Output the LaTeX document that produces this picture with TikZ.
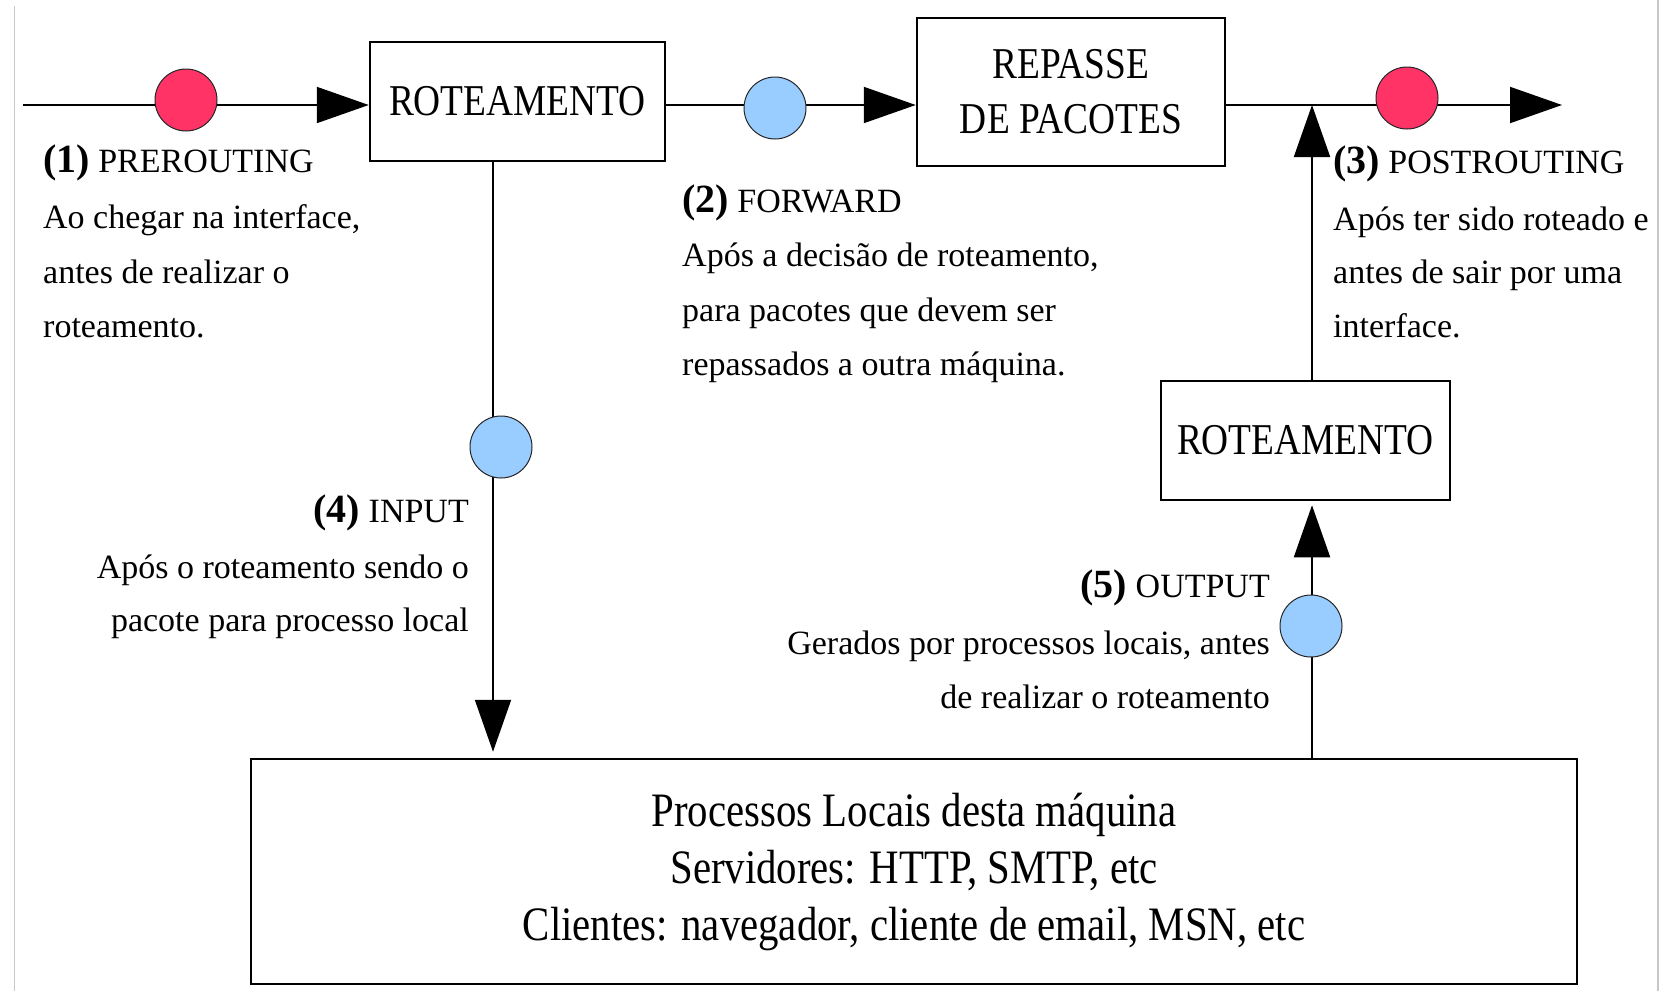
\documentclass[tikz,border=0pt]{standalone}
\usepackage{fontspec}
\setmainfont{Liberation Serif}
\newfontfamily\narrowserif{Liberation Serif}[FakeStretch=0.85]
\usetikzlibrary{arrows.meta}

\definecolor{hookred}{HTML}{FF3366}
\definecolor{hookblue}{HTML}{99CCFF}
\definecolor{edgegray}{HTML}{C8C8C8}

% bold chain number, e.g. (1)
\newcommand\hooknum[1]{{\bfseries\fontsize{40}{40}\selectfont(#1)}}

\begin{document}
\begin{tikzpicture}[x=1pt,y=-1pt,
  box/.style={draw, line width=2.5pt, inner sep=0pt, align=center,
    font=\narrowserif\fontsize{44}{55}\selectfont},
  hookA/.style={circle, draw=black!85, line width=1pt, minimum size=62pt,
    inner sep=0pt, fill=hookred},
  hookB/.style={hookA, fill=hookblue},
  flow/.style={line width=2pt},
  tip/.style={-{Triangle[length=52pt,width=36pt]}},
  lbl/.style={inner sep=0pt, font=\fontsize{34}{40}\selectfont}]

\useasboundingbox (0,0) rectangle (1660,991);
\fill[white] (0,0) rectangle (1660,991);

% page edges
\draw[edgegray, line width=1.8pt] (14.5,6) -- (14.5,991);
\draw[edgegray, line width=1.8pt] (1658,0) -- (1658,991);

% boxes
\node[box, minimum width=295pt, minimum height=119pt] (rot1) at (517.5,101.5) {ROTEAMENTO};
\node[box, minimum width=308pt, minimum height=148pt] (rep) at (1071,92) {REPASSE\\DE PACOTES};
\node[box, minimum width=289pt, minimum height=119pt] (rot2) at (1305.5,440.5) {ROTEAMENTO};
\node[box, minimum width=1326pt, minimum height=225pt,
  font=\narrowserif\fontsize{48}{57}\selectfont] (proc) at (914,871.5)
  {Processos Locais desta máquina\\Servidores: HTTP, SMTP, etc\\Clientes: navegador, cliente de email, MSN, etc};

% reference points of the packet path
\coordinate (inEnd) at (23,105);
\coordinate (outEnd) at (1562,105);
\coordinate (join) at (1312,105);
\coordinate (inX) at (493,0);

% connectors
\draw[flow, tip] (inEnd) -- (rot1.west |- inEnd);
\draw[flow, tip] (rot1.east |- inEnd) -- (rep.west |- inEnd);
\draw[flow, tip] (rep.east |- inEnd) -- (outEnd);
\draw[flow, tip] (rot2.north -| join) -- (join);
\draw[flow, tip, shorten >=4pt] (proc.north -| join) -- (rot2.south -| join);
\draw[flow, tip, shorten >=6pt] (rot1.south -| inX) -- (proc.north -| inX);

% hook points
\node[hookA] (pre) at (186,100) {};
\node[hookB] (fwd) at (775,108) {};
\node[hookA] (post) at (1407,98) {};
\node[hookB] (inp) at (501,447) {};
\node[hookB] (outp) at (1311,626) {};

% (1) PREROUTING
\node[lbl, anchor=base west] (preT) at (43,172) {\hooknum{1} PREROUTING};
\node[lbl, anchor=base west] (preA) at (43,228) {Ao chegar na interface,};
\node[lbl, anchor=base west] (preB) at (43,283) {antes de realizar o};
\node[lbl, anchor=base west] (preC) at (43,337) {roteamento.};

% (2) FORWARD
\node[lbl, anchor=base west] (fwdT) at (682,212) {\hooknum{2} FORWARD};
\node[lbl, anchor=base west] (fwdA) at (682,266) {Após a decisão de roteamento,};
\node[lbl, anchor=base west] (fwdB) at (682,321) {para pacotes que devem ser};
\node[lbl, anchor=base west] (fwdC) at (682,375) {repassados a outra máquina.};

% (3) POSTROUTING
\node[lbl, anchor=base west] (postT) at (1333,173) {\hooknum{3} POSTROUTING};
\node[lbl, anchor=base west] (postA) at (1333,230) {Após ter sido roteado e};
\node[lbl, anchor=base west] (postB) at (1333,283) {antes de sair por uma};
\node[lbl, anchor=base west] (postC) at (1333,337) {interface.};

% (4) INPUT
\node[lbl, anchor=base east] (inpT) at (469,522) {\hooknum{4} INPUT};
\node[lbl, anchor=base east] (inpA) at (469,578) {Após o roteamento sendo o};
\node[lbl, anchor=base east] (inpB) at (469,631) {pacote para processo local};

% (5) OUTPUT
\node[lbl, anchor=base east] (outpT) at (1270,597) {\hooknum{5} OUTPUT};
\node[lbl, anchor=base east] (outpA) at (1270,654) {Gerados por processos locais, antes};
\node[lbl, anchor=base east] (outpB) at (1270,708) {de realizar o roteamento};

\end{tikzpicture}
\end{document}
